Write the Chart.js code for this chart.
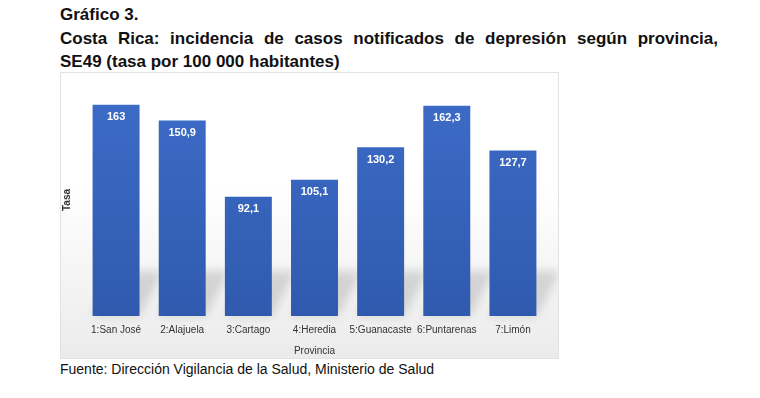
<!DOCTYPE html>
<html>
<head>
<meta charset="utf-8">
<script src="https://cdn.jsdelivr.net/npm/chart.js@4"></script>
<style>
  body { margin: 0; background: #fff; font-family: "Liberation Sans", Arial, sans-serif; }
  .title { position: absolute; left: 60px; top: 3px; width: 658px; font-weight: bold; font-size: 17px; line-height: 23.5px; color: #111; }
  .title .j { text-align: justify; text-align-last: justify; }
  .box { position: absolute; left: 60px; top: 72px; width: 497px; height: 285px; border: 1px solid #e2e2e2; background: linear-gradient(to bottom, #ffffff 0%, #ffffff 40%, #ebebeb 100%); }
  .src { position: absolute; left: 60px; top: 361px; font-size: 14px; color: #111; }
</style>
</head>
<body>
<div class="title">
  <div>Gráfico 3.</div>
  <div class="j">Costa Rica: incidencia de casos notificados de depresión según provincia,</div>
  <div>SE49 (tasa por 100 000 habitantes)</div>
</div>
<div class="box"><canvas id="myChart" width="497" height="285"></canvas></div>
<div class="src">Fuente: Dirección Vigilancia de la Salud, Ministerio de Salud</div>
<script>
const provincias = ["1:San José", "2:Alajuela", "3:Cartago", "4:Heredia", "5:Guanacaste", "6:Puntarenas", "7:Limón"];
const tasas = [163, 150.9, 92.1, 105.1, 130.2, 162.3, 127.7];

// soft floor shadow behind each bar
const barShadows = {
    id: "barShadows",
    beforeDatasetsDraw(chart) {
        const ctx = chart.ctx;
        const meta = chart.getDatasetMeta(0);
        ctx.save();
        ctx.filter = "blur(5px)";
        meta.data.forEach((bar) => {
            const half = bar.width / 2;
            const base = bar.base;
            ctx.fillStyle = "rgba(150,150,150,0.35)";
            ctx.beginPath();
            ctx.moveTo(bar.x - half, base);
            ctx.lineTo(bar.x + half, base);
            ctx.lineTo(bar.x + half + 24, base - 45);
            ctx.lineTo(bar.x - half + 24, base - 45);
            ctx.closePath();
            ctx.fill();
        });
        ctx.restore();
    }
};

// value labels inside the top of each bar
const valueLabels = {
    id: "valueLabels",
    afterDatasetsDraw(chart) {
        const ctx = chart.ctx;
        const meta = chart.getDatasetMeta(0);
        ctx.save();
        ctx.fillStyle = "#ffffff";
        ctx.font = "bold 11px 'Liberation Sans', Arial";
        ctx.textAlign = "center";
        ctx.textBaseline = "top";
        meta.data.forEach((bar, i) => {
            ctx.fillText(String(tasas[i]).replace(".", ","), bar.x, bar.y + 7);
        });
        ctx.restore();
    }
};

const ctx = document.getElementById("myChart");

let myChart = new Chart(ctx, {
    type: "bar",
    data: {
        labels: provincias,
        datasets: [
            {
                label: "Tasa",
                data: tasas,
                backgroundColor: (c) => {
                    const area = c.chart.chartArea;
                    if (!area) return "#3a66c0";
                    const g = c.chart.ctx.createLinearGradient(0, area.top, 0, area.bottom);
                    g.addColorStop(0, "#3d6cc8");
                    g.addColorStop(1, "#2f5aae");
                    return g;
                },
                borderWidth: 0,
                categoryPercentage: 0.71,
                barPercentage: 1.0,
            },
        ],
    },
    options: {
        responsive: false,
        animation: false,
        layout: { padding: { top: 11, right: 12, left: 0, bottom: 1 } },
        plugins: {
            legend: { display: false },
            tooltip: { enabled: false }
        },
        scales: {
            x: {
                grid: { display: false },
                border: { display: false },
                ticks: {
                    color: "#333",
                    font: { size: 10, family: "'Liberation Sans', Arial" },
                    maxRotation: 0,
                    autoSkip: false,
                    padding: 0
                },
                title: {
                    display: true,
                    text: "Provincia",
                    color: "#333",
                    font: { size: 10, family: "'Liberation Sans', Arial" },
                    padding: { top: 9, bottom: 0 }
                }
            },
            y: {
                min: 0,
                max: 179,
                grid: { display: false },
                border: { display: false },
                ticks: { display: false },
                title: {
                    display: true,
                    text: "Tasa",
                    color: "#333",
                    font: { size: 10, weight: "bold", family: "'Liberation Sans', Arial" },
                    padding: { top: 0, bottom: 2 }
                }
            }
        }
    },
    plugins: [barShadows, valueLabels]
});
</script>
</body>
</html>
